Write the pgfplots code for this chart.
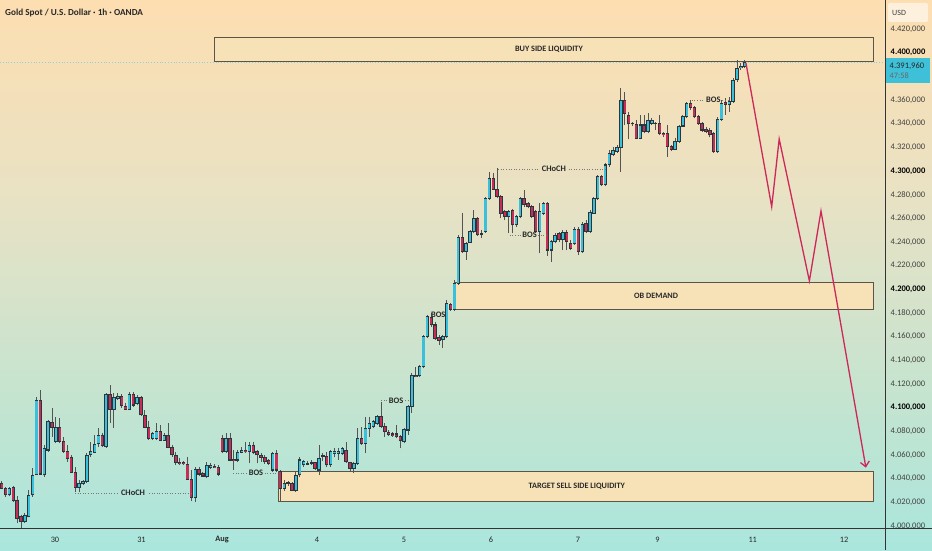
\documentclass[border=0pt]{standalone}
\usepackage{fontspec}
\setmainfont{Carlito}
\usepackage{pgfplots}
\pgfplotsset{compat=1.18}
\usepackage{pgfplotstable}
\usetikzlibrary{arrows.meta}
\definecolor{bull}{RGB}{58,192,218}
\definecolor{bear}{RGB}{198,46,88}
\definecolor{outl}{RGB}{42,54,60}
\definecolor{wickc}{RGB}{84,84,84}
\definecolor{boxfill}{RGB}{247,225,182}
\definecolor{boxline}{RGB}{92,84,72}
\definecolor{arrowred}{RGB}{206,40,90}
\definecolor{tagcyan}{RGB}{62,193,216}
\definecolor{txt}{RGB}{40,40,40}
\definecolor{lblgray}{RGB}{64,64,64}
\definecolor{dotc}{RGB}{120,120,120}
\definecolor{pricedot}{RGB}{140,210,214}
\pgfdeclareverticalshading{bgshade}{100bp}{rgb(0bp)=(0.667,0.902,0.867); rgb(25bp)=(0.667,0.902,0.867); rgb(38.64bp)=(0.769,0.894,0.816); rgb(56.82bp)=(0.910,0.886,0.769); rgb(75bp)=(0.992,0.871,0.694); rgb(100bp)=(0.992,0.871,0.694)}

\pgfplotstableread{
i o h l c
0 4036.0 4038.0 4031.0 4031.8
1 4031.8 4033.2 4024.8 4026.2
2 4026.2 4033.2 4025.3 4031.8
3 4032.6 4033.8 4020.5 4021.4
4 4021.4 4025.3 4002.2 4006.4
5 4007.8 4009.3 3998.6 4003.6
6 4003.6 4010.7 4002.2 4009.3
7 4007.8 4030.4 4007.3 4026.2
8 4026.2 4048.7 4024.8 4043.1
9 4043.1 4109.3 4043.1 4105.9
10 4105.9 4114.9 4043.1 4043.9
11 4043.1 4068.4 4041.7 4065.6
12 4064.2 4089.5 4062.8 4088.1
13 4087.3 4099.4 4075.5 4083.4
14 4071.2 4092.4 4069.8 4083.4
15 4083.4 4091.0 4069.8 4071.2
16 4071.2 4075.5 4062.0 4062.8
17 4062.8 4068.4 4054.3 4057.2
18 4058.0 4060.0 4044.5 4045.0
19 4045.0 4050.1 4029.0 4032.6
20 4032.6 4038.8 4029.0 4036.0
21 4035.5 4038.8 4034.6 4037.4
22 4037.4 4061.4 4036.0 4060.0
23 4060.0 4071.2 4058.6 4062.8
24 4062.0 4076.9 4061.4 4069.3
25 4069.3 4082.5 4067.0 4076.9
26 4076.9 4078.3 4066.4 4067.6
27 4067.0 4112.1 4065.6 4111.5
28 4111.5 4119.1 4086.7 4098.6
29 4098.6 4112.1 4082.5 4108.7
30 4107.9 4112.1 4106.5 4109.8
31 4109.8 4111.5 4099.4 4101.4
32 4101.4 4103.6 4098.0 4098.6
33 4098.6 4113.5 4098.0 4111.5
34 4111.5 4113.5 4100.8 4102.2
35 4103.6 4110.7 4102.2 4108.7
36 4108.7 4109.8 4092.9 4093.8
37 4093.8 4098.0 4082.5 4083.4
38 4083.4 4089.0 4072.6 4074.1
39 4074.1 4079.7 4072.6 4078.3
40 4074.1 4086.7 4072.6 4079.7
41 4079.7 4085.3 4071.8 4072.6
42 4072.6 4078.3 4072.1 4076.9
43 4076.9 4086.7 4065.6 4066.4
44 4066.4 4068.4 4058.6 4060.0
45 4060.0 4062.8 4051.5 4053.5
46 4053.5 4057.2 4051.5 4052.4
47 4053.5 4055.0 4051.8 4052.4
48 4052.4 4058.0 4038.8 4039.4
49 4039.4 4047.3 4021.1 4023.9
50 4023.9 4050.1 4020.5 4047.9
51 4047.9 4050.1 4042.2 4043.9
52 4044.5 4045.9 4041.7 4042.2
53 4041.7 4054.3 4040.3 4051.5
54 4049.5 4053.5 4047.9 4051.5
55 4050.7 4052.4 4049.0 4049.3
56 4049.5 4051.5 4042.2 4043.9
57 4074.1 4076.9 4061.4 4062.8
58 4062.8 4078.3 4061.9 4074.1
59 4074.1 4078.3 4055.2 4055.7
60 4056.3 4064.2 4047.3 4055.2
61 4055.7 4064.2 4054.3 4062.0
62 4062.0 4067.0 4061.4 4064.2
63 4064.2 4071.2 4061.9 4062.8
64 4062.8 4071.2 4053.0 4068.4
65 4068.4 4071.2 4060.8 4062.0
66 4062.8 4064.2 4052.9 4060.0
67 4060.0 4061.4 4054.3 4058.0
68 4058.0 4060.0 4052.4 4054.3
69 4055.2 4056.3 4051.5 4052.9
70 4047.3 4062.8 4045.9 4061.4
71 4061.4 4064.2 4045.9 4047.3
72 4045.9 4047.3 4020.5 4031.8
73 4031.8 4038.8 4029.8 4036.0
74 4036.0 4038.0 4034.0 4036.9
75 4036.0 4037.4 4029.5 4029.8
76 4029.8 4045.9 4029.0 4043.1
77 4043.1 4058.0 4041.0 4055.8
78 4051.6 4055.8 4050.2 4054.4
79 4053.0 4055.0 4051.5 4052.3
80 4052.8 4055.5 4051.6 4053.6
81 4053.5 4054.4 4047.3 4048.7
82 4047.3 4068.5 4043.1 4057.2
83 4058.6 4062.0 4055.0 4059.4
84 4058.6 4062.8 4050.2 4051.6
85 4051.6 4064.2 4050.2 4062.8
86 4061.4 4066.0 4058.0 4062.8
87 4061.4 4065.6 4055.8 4062.8
88 4061.4 4067.0 4060.0 4065.6
89 4064.2 4071.3 4053.5 4054.4
90 4053.5 4054.4 4045.9 4048.7
91 4048.7 4054.4 4045.1 4053.0
92 4053.0 4082.5 4051.6 4074.1
93 4074.1 4084.0 4068.5 4069.9
94 4069.9 4092.4 4061.4 4082.5
95 4082.5 4092.4 4075.5 4086.8
96 4083.9 4089.6 4082.5 4088.2
97 4086.8 4093.8 4085.4 4092.4
98 4092.4 4105.1 4082.5 4083.9
99 4084.5 4086.8 4075.5 4079.7
100 4079.2 4081.1 4076.1 4076.9
101 4077.8 4079.7 4075.5 4076.4
102 4077.8 4085.4 4074.1 4075.5
103 4075.5 4076.9 4065.6 4072.1
104 4071.3 4082.5 4069.9 4081.7
105 4081.1 4102.3 4076.9 4100.9
106 4100.9 4129.0 4095.2 4127.6
107 4127.6 4134.7 4125.6 4126.2
108 4126.8 4136.1 4125.6 4134.7
109 4134.7 4161.4 4133.3 4160.0
110 4160.0 4178.3 4158.6 4176.9
111 4176.3 4179.7 4168.5 4169.9
112 4169.9 4172.7 4157.2 4158.6
113 4159.4 4161.4 4153.0 4156.6
114 4157.2 4161.4 4150.1 4160.0
115 4160.0 4191.0 4158.6 4188.2
116 4187.6 4188.2 4182.0 4183.1
117 4183.1 4207.9 4182.0 4205.1
118 4205.1 4245.9 4203.7 4243.9
119 4243.9 4264.2 4230.5 4231.8
120 4231.8 4240.3 4224.8 4238.9
121 4239.4 4250.2 4238.9 4248.7
122 4248.7 4267.0 4247.3 4260.0
123 4260.0 4261.4 4245.1 4245.9
124 4247.3 4250.2 4243.1 4246.7
125 4248.7 4278.3 4247.9 4276.9
126 4276.9 4299.4 4275.5 4293.8
127 4293.8 4298.0 4283.9 4284.5
128 4284.5 4302.3 4276.9 4278.3
129 4278.3 4279.7 4260.0 4264.2
130 4265.6 4267.0 4258.6 4261.4
131 4261.4 4267.0 4247.3 4265.6
132 4267.0 4267.6 4247.3 4254.4
133 4254.4 4262.8 4253.0 4261.4
134 4261.4 4278.3 4260.0 4276.9
135 4276.9 4283.9 4269.9 4271.3
136 4272.7 4274.1 4268.5 4269.9
137 4269.9 4271.3 4260.0 4261.4
138 4265.6 4267.0 4247.3 4248.7
139 4248.7 4272.7 4230.4 4265.6
140 4264.2 4274.1 4262.8 4272.7
141 4272.7 4274.1 4228.2 4233.2
142 4233.2 4241.7 4223.4 4240.3
143 4240.3 4247.3 4238.9 4245.9
144 4247.3 4248.7 4240.3 4241.7
145 4242.3 4250.2 4233.2 4247.9
146 4247.9 4250.2 4233.2 4240.3
147 4238.9 4241.7 4233.2 4234.6
148 4238.9 4252.4 4237.5 4251.0
149 4251.0 4253.0 4229.0 4231.8
150 4231.8 4257.2 4231.0 4255.2
151 4255.8 4258.6 4247.3 4248.7
152 4248.7 4267.0 4247.3 4265.1
153 4264.2 4278.3 4263.7 4276.9
154 4276.9 4296.6 4275.5 4295.2
155 4295.2 4296.6 4287.3 4288.2
156 4288.2 4306.5 4287.3 4305.1
157 4305.1 4317.7 4303.7 4314.9
158 4313.5 4320.5 4312.7 4317.7
159 4316.3 4322.0 4315.5 4320.0
160 4320.0 4369.9 4299.4 4360.0
161 4360.0 4367.0 4338.9 4348.7
162 4346.8 4350.1 4326.8 4339.7
163 4340.3 4341.7 4338.0 4339.7
164 4339.7 4343.1 4326.8 4327.6
165 4327.6 4347.3 4326.8 4338.9
166 4338.9 4347.3 4331.8 4333.2
167 4333.2 4348.7 4331.8 4342.5
168 4340.3 4344.5 4338.9 4342.5
169 4340.3 4341.7 4334.6 4339.7
170 4340.3 4347.3 4330.4 4331.8
171 4331.8 4333.2 4329.0 4330.4
172 4331.8 4338.9 4312.1 4320.5
173 4320.5 4321.9 4317.2 4318.3
174 4318.3 4327.6 4317.7 4324.8
175 4324.8 4338.9 4323.9 4338.0
176 4338.0 4347.3 4337.5 4345.9
177 4345.9 4358.6 4344.5 4357.2
178 4357.2 4360.0 4351.5 4353.8
179 4353.8 4354.9 4344.5 4345.9
180 4345.9 4347.3 4338.9 4340.3
181 4340.3 4341.7 4333.2 4334.6
182 4335.2 4337.5 4331.8 4333.2
183 4334.1 4336.1 4328.4 4330.4
184 4331.8 4333.2 4315.5 4316.3
185 4316.3 4345.9 4315.5 4343.6
186 4343.6 4360.0 4342.5 4357.2
187 4357.7 4361.4 4347.3 4355.8
188 4355.8 4362.8 4350.1 4358.6
189 4358.6 4378.3 4357.7 4376.9
190 4376.9 4393.8 4375.5 4386.8
191 4387.6 4391.0 4385.3 4388.7
192 4388.2 4393.5 4386.8 4392.0
}\candles

\begin{document}
\begin{tikzpicture}[x=1pt,y=1pt]
\useasboundingbox (0,0) rectangle (932,550);
\shade[shading=bgshade] (0,0) rectangle (932,550);
\begin{axis}[
  at={(0pt,22pt)}, anchor=south west,
  width=885pt, height=528pt, scale only axis,
  xmin=-0.44, xmax=228.24, ymin=3998.31, ymax=4444.51,
  axis x line*=bottom, axis y line*=right,
  axis line style={draw=none},
  major tick length=0pt,
  xtick={13.77,36.12,56.93,81.47,103.95,126.43,148.91,169.46,194.06,217.65},
  xticklabels={30,31,{\bfseries Aug},4,5,6,7,9,11,12},
  xticklabel style={anchor=center, yshift=-12pt, font=\fontsize{8.3}{9}\selectfont, text=txt},
  ytick={4000,4020,4040,4060,4080,4100,4120,4140,4160,4180,4200,4220,4240,4260,4280,4300,4320,4340,4360,4400,4420},
  yticklabels={{4.000,000},{4.020,000},{4.040,000},{4.060,000},{4.080,000},{\bfseries\color{black}4.100,000},{4.120,000},{4.140,000},{4.160,000},{4.180,000},{\bfseries\color{black}4.200,000},{4.220,000},{4.240,000},{4.260,000},{4.280,000},{\bfseries\color{black}4.300,000},{4.320,000},{4.340,000},{4.360,000},{\bfseries\color{black}4.400,000},{4.420,000}},
  yticklabel style={anchor=west, inner sep=0pt, xshift=5.5pt, font=\fontsize{8.5}{9}\selectfont, text=lblgray},
]
% zones
\draw[boxline, fill=boxfill, line width=0.9pt] (axis cs:54.86,4392.7) rectangle (axis cs:225.15,4413.0);
\draw[boxline, fill=boxfill, line width=0.9pt] (axis cs:117.13,4183.4) rectangle (axis cs:225.15,4205.9);
\draw[boxline, fill=boxfill, line width=0.9pt] (axis cs:71.5,4021.1) rectangle (axis cs:225.15,4045.9);
% current price line
\draw[pricedot, dotted, line width=0.8pt] (axis cs:-0.44,4391.96) -- (axis cs:228.24,4391.96);
% wicks
\addplot[draw=none, mark=none, forget plot,
  error bars/.cd, y dir=plus, y explicit, error mark=none,
  error bar style={draw=wickc, line width=0.9pt}]
  table[x=i, y=l, y error plus expr=\thisrow{h}-\thisrow{l}] {\candles};
% bull bodies
\addplot[draw=none, mark=none, forget plot,
  restrict expr to domain={\thisrow{c}-\thisrow{o}}{0:1000},
  error bars/.cd, y dir=plus, y explicit, error mark=none,
  error bar style={draw=outl, line width=3.4pt}]
  table[x=i, y expr=\thisrow{o}-0.4, y error plus expr=\thisrow{c}-\thisrow{o}+0.8] {\candles};
\addplot[draw=none, mark=none, forget plot,
  restrict expr to domain={\thisrow{c}-\thisrow{o}}{0:1000},
  error bars/.cd, y dir=plus, y explicit, error mark=none,
  error bar style={draw=bull, line width=2.1pt}]
  table[x=i, y expr=\thisrow{o}+0.5, y error plus expr={max(\thisrow{c}-\thisrow{o}-1.0,0)}] {\candles};
% bear bodies
\addplot[draw=none, mark=none, forget plot,
  restrict expr to domain={\thisrow{o}-\thisrow{c}}{0.0001:1000},
  error bars/.cd, y dir=plus, y explicit, error mark=none,
  error bar style={draw=outl, line width=3.4pt}]
  table[x=i, y expr=\thisrow{c}-0.4, y error plus expr=\thisrow{o}-\thisrow{c}+0.8] {\candles};
\addplot[draw=none, mark=none, forget plot,
  restrict expr to domain={\thisrow{o}-\thisrow{c}}{0.0001:1000},
  error bars/.cd, y dir=plus, y explicit, error mark=none,
  error bar style={draw=bear, line width=2.1pt}]
  table[x=i, y expr=\thisrow{c}+0.5, y error plus expr={max(\thisrow{o}-\thisrow{c}-1.0,0)}] {\candles};
% projected path
\addplot[arrowred, line width=1.3pt, mark=none, -{Straight Barb[length=5pt,width=9pt]}] coordinates {
  (192.3,4391.5) (198.96,4269.8) (200.9,4327.0) (208.7,4207.1) (211.7,4266.2) (223.3,4049.3)};
% zone texts
\tikzset{zt/.style={font=\bfseries\fontsize{8.2}{9}\selectfont, text=txt}}
\node[zt] at (axis cs:141.4,4403.1) {BUY SIDE LIQUIDITY};
\node[zt] at (axis cs:169.1,4194.4) {OB DEMAND};
\node[zt] at (axis cs:148.6,4033.3) {TARGET SELL SIDE LIQUIDITY};
% structure labels
\tikzset{lab/.style={font=\bfseries\fontsize{8.4}{9}\selectfont, text=txt, inner sep=0pt}, dl/.style={dotc, dotted, line width=0.6pt}}
\draw[dl] (axis cs:18.94,4027.9) -- (axis cs:29.79,4027.9);
\draw[dl] (axis cs:38.06,4027.9) -- (axis cs:49.17,4027.9);
\node[lab] at (axis cs:33.93,4027.9) {CHoCH};
\draw[dl] (axis cs:59.77,4044.8) -- (axis cs:63.4,4044.8);
\draw[dl] (axis cs:68.0,4044.8) -- (axis cs:71.14,4044.8);
\node[lab] at (axis cs:65.71,4044.8) {BOS};
\draw[dl] (axis cs:98.0,4106.1) -- (axis cs:99.6,4106.1);
\draw[dl] (axis cs:104.2,4106.1) -- (axis cs:105.5,4106.1);
\node[lab] at (axis cs:101.9,4106.1) {BOS};
\node[lab] at (axis cs:112.8,4178.3) {BOS};
\draw[dl] (axis cs:128.3,4301.7) -- (axis cs:139.0,4301.7);
\draw[dl] (axis cs:146.5,4301.7) -- (axis cs:156.3,4301.7);
\node[lab] at (axis cs:142.7,4301.7) {CHoCH};
\draw[dl] (axis cs:131.3,4245.9) -- (axis cs:134.2,4245.9);
\draw[dl] (axis cs:138.6,4245.9) -- (axis cs:140.8,4245.9);
\node[lab] at (axis cs:136.4,4245.9) {BOS};
\draw[dl] (axis cs:178.3,4360.0) -- (axis cs:181.6,4360.0);
\draw[dl] (axis cs:186.2,4360.0) -- (axis cs:187.8,4360.0);
\node[lab] at (axis cs:183.9,4360.0) {BOS};
\end{axis}
% hide lower half of the bottom price label
\begin{scope}
\clip (886,0) rectangle (932,22);
\shade[shading=bgshade] (0,0) rectangle (932,550);
\end{scope}
% frame lines
\draw[black!80, line width=0.9pt] (0,22) -- (932,22);
\draw[black!80, line width=0.9pt] (885.5,0) -- (885.5,550);
% USD tag
\fill[white, opacity=0.55, rounded corners=2pt] (888,528) rectangle (928,547);
\node[anchor=west, font=\fontsize{8}{9}\selectfont, text=lblgray, inner sep=0pt] at (892,537.5) {USD};
% current price tag
\fill[tagcyan] (886,467) rectangle (930,492);
\node[anchor=west, font=\fontsize{8.5}{9}\selectfont, text=black!85, inner sep=0pt] at (889.5,484) {4.391,960};
\node[anchor=west, font=\fontsize{8.3}{9}\selectfont, text=black!60, inner sep=0pt] at (889.5,474) {47:58};
% title
\node[anchor=west, font=\bfseries\fontsize{9.2}{10}\selectfont, text=txt, inner sep=0pt] at (5,536.7) {Gold Spot / U.S. Dollar · 1h · OANDA};
\end{tikzpicture}
\end{document}
